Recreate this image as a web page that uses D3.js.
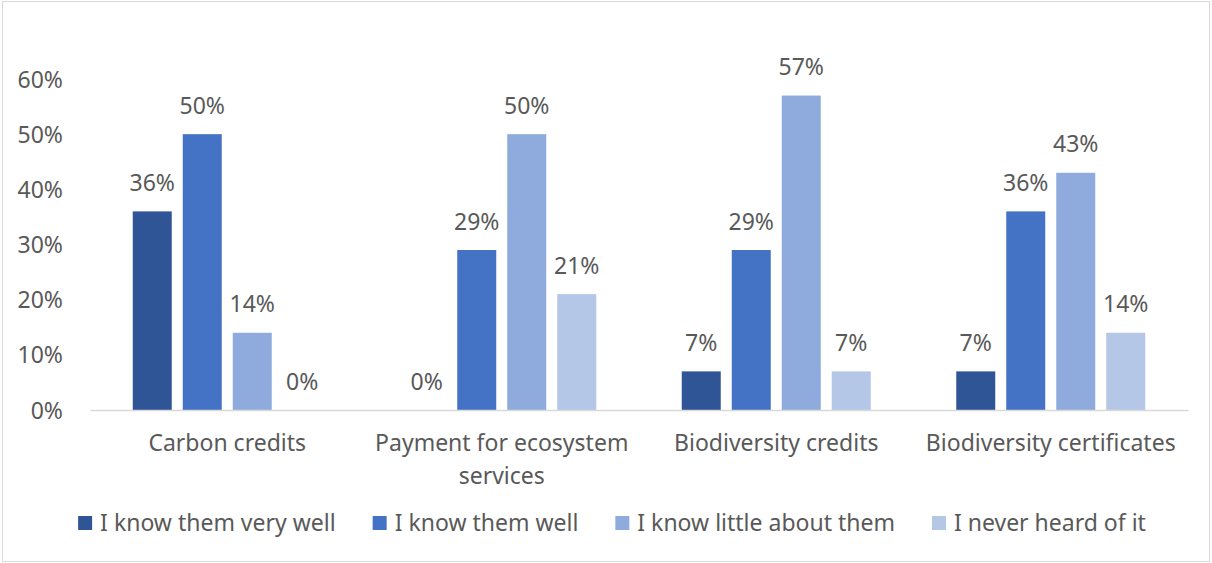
<!DOCTYPE html>
<html>
<head>
<meta charset="utf-8">
<script src="https://cdn.jsdelivr.net/npm/d3@7"></script>
<style>
  html, body { margin: 0; padding: 0; background: #fff; }
  svg text { font-family: "Noto Sans", sans-serif; fill: #595959; }
</style>
</head>
<body>
<svg id="chart" width="1212" height="563"></svg>
<script>
// Survey: familiarity with market instruments
const categories = ["Carbon credits", "Payment for ecosystem services", "Biodiversity credits", "Biodiversity certificates"];
const seriesNames = ["I know them very well", "I know them well", "I know little about them", "I never heard of it"];
const knowVeryWell   = [0.36, 0.00, 0.07, 0.07];
const knowWell       = [0.50, 0.29, 0.29, 0.36];
const knowLittle     = [0.14, 0.50, 0.57, 0.43];
const neverHeard     = [0.00, 0.21, 0.07, 0.14];
const yTicks = [0, 0.1, 0.2, 0.3, 0.4, 0.5, 0.6];
const colors = ["#2F5597", "#4472C4", "#8FAADC", "#B4C7E7"];

const seriesValues = [knowVeryWell, knowWell, knowLittle, neverHeard];
const W = 1212, H = 563;
const svg = d3.select("#chart");
const fontSize = 23;

// outer frame
svg.append("rect")
  .attr("x", 2.5).attr("y", 1.5).attr("width", W - 5).attr("height", H - 3)
  .attr("fill", "none").attr("stroke", "#D9D9D9").attr("stroke-width", 1);

const plot = { left: 90, right: 1188, top: 79, bottom: 410 };

const x0 = d3.scaleBand().domain(categories).range([plot.left, plot.right]).padding(0);
const x1 = d3.scaleBand().domain(seriesNames).range([0, x0.bandwidth()])
  .paddingInner(0.22).paddingOuter(0.855);
const y = d3.scaleLinear().domain([0, 0.6]).range([plot.bottom, plot.top]);

const pct = d3.format(".0%");

// y axis labels (no line, no ticks)
const yAxis = d3.axisLeft(y).tickValues(yTicks).tickFormat(pct).tickSize(0).tickPadding(0);
const yG = svg.append("g").attr("transform", `translate(63,0)`).call(yAxis);
yG.select(".domain").remove();
yG.selectAll("text")
  .attr("font-size", fontSize).attr("font-family", null).attr("fill", "#595959")
  .attr("dy", "0.35em");

// bars
const groups = svg.append("g").selectAll("g")
  .data(categories)
  .join("g")
  .attr("transform", d => `translate(${x0(d)},0)`);

const cells = groups.selectAll("g.cell")
  .data((c, ci) => seriesNames.map((s, si) => ({ series: s, si, value: seriesValues[si][ci] })))
  .join("g").attr("class", "cell");

cells.append("rect")
  .attr("x", d => x1(d.series))
  .attr("width", x1.bandwidth())
  .attr("y", d => y(d.value))
  .attr("height", d => y(0) - y(d.value))
  .attr("fill", d => colors[d.si]);

cells.append("text")
  .attr("x", d => x1(d.series) + x1.bandwidth() / 2)
  .attr("y", d => y(d.value) - 20.5)
  .attr("text-anchor", "middle")
  .attr("font-size", fontSize)
  .text(d => pct(d.value));

// category axis line
const xAxis = d3.axisBottom(x0).tickSize(0).tickFormat("");
const xG = svg.append("g").attr("transform", `translate(0,${plot.bottom})`).call(xAxis);
xG.select(".domain").attr("stroke", "#D9D9D9").attr("stroke-width", 1.5);

// category labels, wrapped to the band width
const catG = svg.append("g");
categories.forEach(c => {
  const cx = x0(c) + x0.bandwidth() / 2;
  const t = catG.append("text").attr("text-anchor", "middle").attr("font-size", fontSize);
  const words = c.split(" ");
  const lines = [];
  let line = [];
  const probe = catG.append("text").attr("font-size", fontSize);
  words.forEach(w => {
    const trial = line.concat(w).join(" ");
    probe.text(trial);
    if (probe.node().getComputedTextLength() > x0.bandwidth() - 10 && line.length) {
      lines.push(line.join(" "));
      line = [w];
    } else {
      line.push(w);
    }
  });
  lines.push(line.join(" "));
  probe.remove();
  lines.forEach((l, i) => {
    t.append("tspan").attr("x", cx).attr("y", 451 + i * 33).text(l);
  });
});

// legend
const legend = svg.append("g");
const sq = 14, sqGap = 8, itemGap = 37;
const items = seriesNames.map((s, i) => {
  const g = legend.append("g");
  g.append("rect").attr("width", sq).attr("height", sq).attr("y", -sq / 2).attr("fill", colors[i]);
  const t = g.append("text").attr("x", sq + sqGap).attr("dy", "0.35em").attr("font-size", fontSize).text(s);
  return { g, w: sq + sqGap + t.node().getComputedTextLength() };
});
const total = d3.sum(items, d => d.w) + itemGap * (items.length - 1);
let lx = 612 - total / 2;
items.forEach(it => {
  it.g.attr("transform", `translate(${lx},523)`);
  lx += it.w + itemGap;
});
</script>
</body>
</html>
